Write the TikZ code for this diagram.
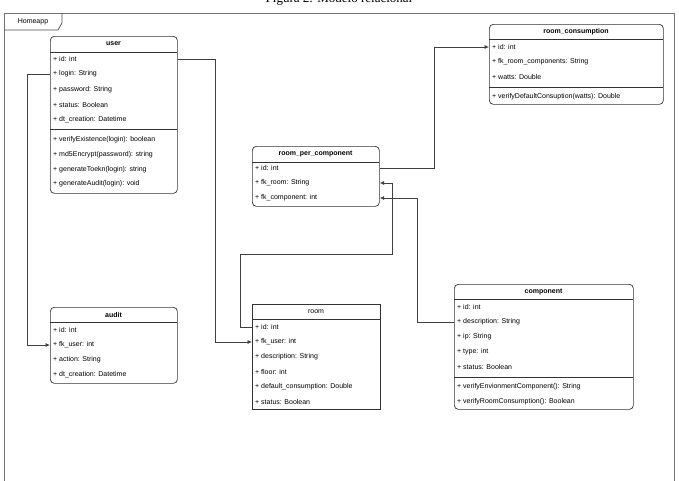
\documentclass[tikz,border=0pt]{standalone}
\usepackage{fontspec}
\setmainfont{Liberation Sans}
\newfontfamily\capfont{Liberation Serif}
\usetikzlibrary{arrows.meta, positioning}

\tikzset{
    cls/.style={draw=black!80, line width=0.7pt, rounded corners=4pt, anchor=north west, inner sep=0pt},
    sqcls/.style={cls, rounded corners=0pt},
    attr/.style={anchor=west, inner sep=0pt, font=\fontsize{7}{8}\selectfont},
    ttl/.style={inner sep=0pt, font=\fontsize{7}{8}\selectfont\bfseries},
    sep/.style={draw=black!80, line width=0.7pt},
    conn/.style={draw=black!75, line width=0.7pt, -{Latex[length=4.5pt,width=4pt]}}
}

\begin{document}
\begin{tikzpicture}[x=1pt, y=-1pt]
    \useasboundingbox (0,0) rectangle (679,480);

    % Caption (cut at the top)
    \node[anchor=base, inner sep=0pt, font=\capfont\fontsize{13}{15}\selectfont] (caption) at (339,2.5) {Figura 2: Modelo relacional};

    % Package frame
    \draw[draw=black!55, line width=0.9pt] (4,13) rectangle (674,484);
    \draw[draw=black!70, line width=0.7pt] (4,30) -- (58,30) -- (62,23) -- (62,13);
    \node[attr, anchor=center] (pkg) at (33,21.5) {Homeapp};

    % user
    \node[cls, minimum width=127, minimum height=157] (user) at (50,36) {};
    \node[ttl] (user-t) at (113.5,44) {user};
    \draw[sep] (50,52) -- (177,52);
    \node[attr] (user-id) at (53,59) {+ id: int};
    \node[attr] (user-login) at (53,74) {+ login: String};
    \node[attr] (user-pw) at (53,90) {+ password: String};
    \node[attr] (user-status) at (53,105) {+ status: Boolean};
    \node[attr] (user-dt) at (53,120) {+ dt\_creation: Datetime};
    \draw[sep] (50,129) -- (177,129);
    \node[attr] (user-m1) at (53,140) {+ verifyExistence(login): boolean};
    \node[attr] (user-m2) at (53,155) {+ md5Encrypt(password): string};
    \node[attr] (user-m3) at (53,170) {+ generateToekn(login): string};
    \node[attr] (user-m4) at (53,184) {+ generateAudit(login): void};

    % audit
    \node[cls, minimum width=127, minimum height=76] (audit) at (50,307) {};
    \node[ttl] (audit-t) at (113.5,315) {audit};
    \draw[sep] (50,322) -- (177,322);
    \node[attr] (audit-id) at (53,330) {+ id: int};
    \node[attr] (audit-fkuser) at (53,345) {+ fk\_user: int};
    \node[attr] (audit-action) at (53,360) {+ action: String};
    \node[attr] (audit-dt) at (53,375) {+ dt\_creation: Datetime};

    % room_per_component
    \node[cls, minimum width=127, minimum height=60] (rpc) at (252,146) {};
    \node[ttl] (rpc-t) at (315.5,154) {room\_per\_component};
    \draw[sep] (252,162) -- (379,162);
    \node[attr] (rpc-id) at (255,168) {+ id: int};
    \node[attr] (rpc-fkroom) at (255,183) {+ fk\_room: String};
    \node[attr] (rpc-fkcomp) at (255,198) {+ fk\_component: int};

    % room_consumption
    \node[cls, minimum width=174, minimum height=80] (rc) at (489,24) {};
    \node[ttl] (rc-t) at (576,32) {room\_consumption};
    \draw[sep] (489,39) -- (663,39);
    \node[attr] (rc-id) at (492,47) {+ id: int};
    \node[attr] (rc-fk) at (492,62) {+ fk\_room\_components: String};
    \node[attr] (rc-watts) at (492,77) {+ watts: Double};
    \draw[sep] (489,87) -- (663,87);
    \node[attr] (rc-m1) at (492,97) {+ verifyDefaultConsuption(watts): Double};

    % room
    \node[sqcls, minimum width=128, minimum height=105] (room) at (252,304) {};
    \node[ttl, font=\fontsize{7}{8}\selectfont] (room-t) at (316,312) {room};
    \draw[sep] (252,319) -- (380,319);
    \node[attr] (room-id) at (255,327) {+ id: int};
    \node[attr] (room-fkuser) at (255,342) {+ fk\_user: int};
    \node[attr] (room-desc) at (255,357) {+ description: String};
    \node[attr] (room-floor) at (255,372) {+ floor: int};
    \node[attr] (room-dc) at (255,387) {+ default\_consumption: Double};
    \node[attr] (room-status) at (255,402) {+ status: Boolean};

    % component
    \node[cls, minimum width=179, minimum height=125] (comp) at (454,284) {};
    \node[ttl] (comp-t) at (543.5,292) {component};
    \draw[sep] (454,299) -- (633,299);
    \node[attr] (comp-id) at (457,307) {+ id: int};
    \node[attr] (comp-desc) at (457,322) {+ description: String};
    \node[attr] (comp-ip) at (457,337) {+ ip: String};
    \node[attr] (comp-type) at (457,352) {+ type: int};
    \node[attr] (comp-status) at (457,367) {+ status: Boolean};
    \draw[sep] (454,377) -- (633,377);
    \node[attr] (comp-m1) at (457,387) {+ verifyEnvionmentComponent(): String};
    \node[attr] (comp-m2) at (457,402) {+ verifyRoomConsumption(): Boolean};

    % Connectors
    \coordinate (bend) at (392,254);
    \draw[conn] (user-login -| user.west) -- ++(-23,0) |- (audit-fkuser -| audit.west);
    \draw[conn] (user-id -| user.east) -- ++(38,0) |- (room-fkuser -| room.west);
    \draw[conn] (room-id -| room.west) -- ++(-12,0) |- (bend) |- (rpc-fkroom -| rpc.east);
    \draw[conn] (comp-desc -| comp.west) -- ++(-37,0) |- (rpc-fkcomp -| rpc.east);
    \draw[conn] (rpc-id -| rpc.east) -- ++(55,0) |- (rc-id -| rc.west);
\end{tikzpicture}
\end{document}
